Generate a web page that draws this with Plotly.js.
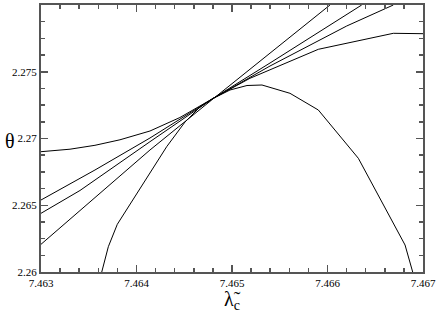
<!DOCTYPE html>
<html>
<head>
<meta charset="utf-8">
<script src="https://cdn.plot.ly/plotly-3.0.1.min.js"></script>
<style>html,body{margin:0;padding:0;background:#fff}#chart{width:436px;height:313px}</style>
</head>
<body>
<div id="chart"></div>
<script>
// Curve A (flattest)
const xA = [7.463000, 7.463304, 7.463565, 7.463827, 7.464141, 7.464455, 7.464800, 7.465188, 7.465904, 7.466689, 7.467000];
const yA = [2.269011, 2.269199, 2.269491, 2.269903, 2.270562, 2.271573, 2.272996, 2.274509, 2.276682, 2.277880, 2.277850];
// Curve B
const xB = [7.463000, 7.463565, 7.464141, 7.464800, 7.465398, 7.466026, 7.466201, 7.466689];
const yB = [2.265393, 2.267640, 2.270037, 2.272996, 2.275431, 2.277753, 2.278427, 2.280000];
// Curve C
const xC = [7.463000, 7.463408, 7.464141, 7.464800, 7.465398, 7.466026, 7.466358];
const yC = [2.264397, 2.266105, 2.269760, 2.272996, 2.275655, 2.278502, 2.280000];
// Curve D (steepest)
const xD = [7.463000, 7.464141, 7.464800, 7.465398, 7.466026];
const yD = [2.262075, 2.269139, 2.272959, 2.276404, 2.280000];
// Curve P (humped)
const xP = [7.463636, 7.463705, 7.463799, 7.464141, 7.464316, 7.464508, 7.464665, 7.464801, 7.464979, 7.465157, 7.465314, 7.465607, 7.465904, 7.466323, 7.466689, 7.466812, 7.466892];
const yP = [2.260000, 2.261895, 2.263573, 2.267393, 2.269386, 2.271236, 2.272360, 2.272996, 2.273633, 2.273970, 2.274007, 2.273386, 2.272135, 2.268517, 2.263648, 2.262022, 2.260000];

const xRange = [7.463, 7.467];
const yRange = [2.26, 2.28];

const line = {color: '#000', width: 1};
const traces = [[xA,yA],[xB,yB],[xC,yC],[xD,yD],[xP,yP]].map(([x,y]) => ({
  x: x, y: y, type: 'scatter', mode: 'lines', line: line, hoverinfo: 'skip', showlegend: false
}));
// invisible carrier trace so the minor-tick overlay axes are drawn
traces.push({x: xRange, y: yRange, xaxis: 'x2', yaxis: 'y2', type: 'scatter', mode: 'lines',
  line: {width: 0, color: 'rgba(0,0,0,0)'}, hoverinfo: 'skip', showlegend: false});

const axCol = '#555';
const fontFam = 'Liberation Serif, serif';
const common = {showline: true, linecolor: axCol, linewidth: 2, mirror: 'allticks', showgrid: false, zeroline: false};
const layout = {
  width: 436, height: 313,
  margin: {l: 41, r: 13, t: 5, b: 41},
  paper_bgcolor: '#fff', plot_bgcolor: '#fff',
  font: {family: fontFam, color: '#000', size: 11},
  showlegend: false,
  xaxis: Object.assign({
    range: xRange, tickmode: 'linear', dtick: 0.001, tick0: 7.463,
    ticks: 'inside', ticklen: 7, tickwidth: 1.5, tickcolor: axCol,
    tickfont: {family: fontFam, size: 11, color: '#000'},
    title: {text: 'λ̃<sub>c</sub>', font: {family: fontFam, size: 20, color: '#000'}, standoff: 4}
  }, common),
  yaxis: Object.assign({
    range: yRange, tickmode: 'linear', dtick: 0.005, tick0: 2.26,
    ticks: 'inside', ticklen: 7, tickwidth: 1.5, tickcolor: axCol,
    tickfont: {family: fontFam, size: 11, color: '#000'}
  }, common),
  xaxis2: Object.assign({
    overlaying: 'x', anchor: 'y2', side: 'bottom', range: xRange, tickmode: 'linear', dtick: 0.0002, tick0: 7.463,
    ticks: 'inside', ticklen: 4, tickwidth: 1.5, tickcolor: axCol, showticklabels: false
  }, common),
  yaxis2: Object.assign({
    overlaying: 'y', anchor: 'x2', side: 'left', range: yRange, tickmode: 'linear', dtick: 0.00125, tick0: 2.26,
    ticks: 'inside', ticklen: 4, tickwidth: 1.5, tickcolor: axCol, showticklabels: false
  }, common),
  annotations: [{
    text: 'θ', xref: 'paper', yref: 'paper', x: -0.082, y: 0.49,
    xanchor: 'center', yanchor: 'middle', showarrow: false,
    font: {family: fontFam, size: 20, color: '#000'}
  }]
};

Plotly.newPlot('chart', traces, layout, {staticPlot: true, displayModeBar: false});
</script>
</body>
</html>
